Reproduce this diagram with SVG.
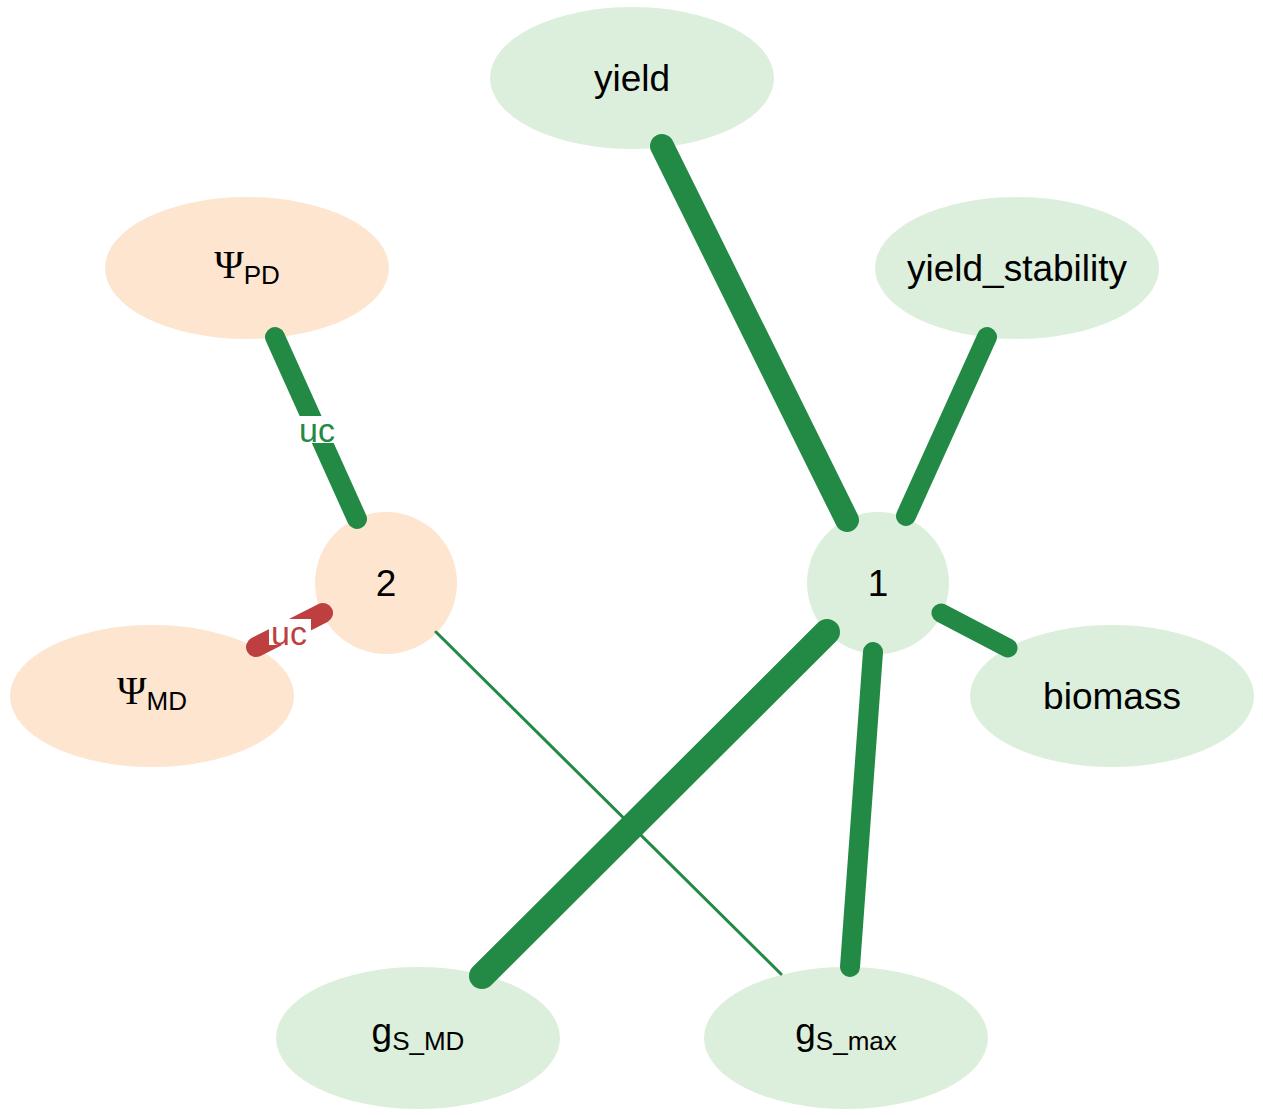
<svg xmlns="http://www.w3.org/2000/svg" width="1263" height="1115" viewBox="0 0 1263 1115">
  <style>
    .lab { font-family: "Liberation Sans", Arial, sans-serif; font-size: 37px; fill: #000; text-anchor: middle; }
    .sub { font-size: 26px; }
    .psi { font-family: "Liberation Serif", "Times New Roman", serif; font-size: 40px; }
    .green { fill: #dcefdc; }
    .peach { fill: #fde5cf; }
    .e { fill: none; stroke-linecap: round; }
    .eg { stroke: #228a44; }
    .er { stroke: #bd3f3f; }
    .elab { font-family: "Liberation Sans", Arial, sans-serif; font-size: 34px; text-anchor: middle; }
  </style>

  <!-- nodes -->
  <g id="node-yield"><ellipse class="green" cx="632" cy="78" rx="142" ry="71"/><text class="lab" x="632" y="91">yield</text></g>
  <g id="node-psi-pd"><ellipse class="peach" cx="247" cy="268" rx="142" ry="71"/><text class="lab" x="247" y="278"><tspan class="psi">Ψ</tspan><tspan class="sub" dy="6">PD</tspan></text></g>
  <g id="node-yield-stability"><ellipse class="green" cx="1017" cy="268" rx="142" ry="71"/><text class="lab" x="1017" y="281">yield_stability</text></g>
  <g id="node-2"><circle class="peach" cx="386" cy="583" r="71"/><text class="lab" x="386" y="596">2</text></g>
  <g id="node-1"><circle class="green" cx="878" cy="583" r="71"/><text class="lab" x="878" y="596">1</text></g>
  <g id="node-psi-md"><ellipse class="peach" cx="152" cy="696" rx="142" ry="71"/><text class="lab" x="152" y="704"><tspan class="psi">Ψ</tspan><tspan class="sub" dy="6">MD</tspan></text></g>
  <g id="node-biomass"><ellipse class="green" cx="1112" cy="696" rx="142" ry="71"/><text class="lab" x="1112" y="709">biomass</text></g>
  <g id="node-gs-md"><ellipse class="green" cx="418" cy="1038" rx="142" ry="71"/><text class="lab" x="418" y="1044">g<tspan class="sub" dy="6">S_MD</tspan></text></g>
  <g id="node-gs-max"><ellipse class="green" cx="846" cy="1038" rx="142" ry="71"/><text class="lab" x="846" y="1044">g<tspan class="sub" dy="6">S_max</tspan></text></g>

  <!-- connectors -->
  <g id="edges">
    <line class="e eg" x1="662" y1="146" x2="847" y2="520" stroke-width="24"/>
    <line class="e eg" x1="987" y1="337" x2="906" y2="516" stroke-width="20"/>
    <line class="e eg" x1="941" y1="613" x2="1008" y2="648" stroke-width="19"/>
    <line class="e eg" x1="827" y1="632" x2="482" y2="976" stroke-width="26"/>
    <line class="e eg" x1="873" y1="652" x2="850" y2="967" stroke-width="20"/>
    <line class="e eg" x1="436" y1="632" x2="781" y2="974" stroke-width="3" stroke-linecap="butt"/>
    <line class="e eg" x1="275" y1="337" x2="357" y2="519" stroke-width="20"/>
    <line class="e er" x1="256" y1="647" x2="323" y2="613" stroke-width="20"/>
    <rect x="297" y="416" width="41" height="27" fill="#fff"/>
    <text class="elab" x="317" y="442" fill="#228a44">uc</text>
    <rect x="269" y="619" width="42" height="26" fill="#fff"/>
    <text class="elab" x="289" y="645" fill="#bd3f3f">uc</text>
  </g>
</svg>
